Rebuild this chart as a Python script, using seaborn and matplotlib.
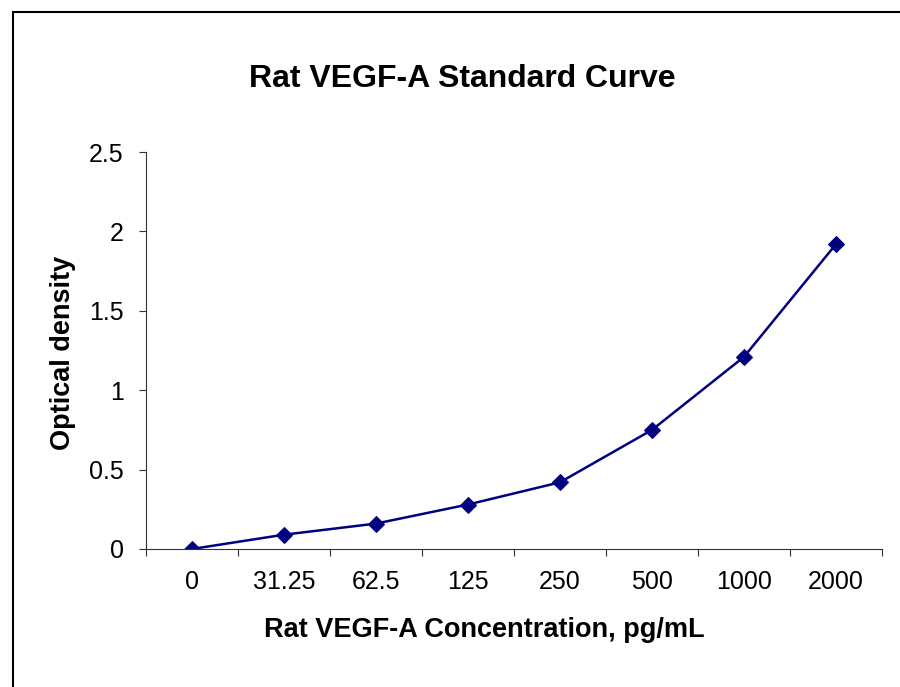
import numpy as np
import pandas as pd
import matplotlib
matplotlib.use("Agg")
import matplotlib.pyplot as plt
import matplotlib.patches as patches
import seaborn as sns

# Standard curve data
concentrations = ['0', '31.25', '62.5', '125', '250', '500', '1000', '2000']
optical_density = [0.0, 0.09, 0.16, 0.28, 0.42, 0.75, 1.21, 1.92]
y_ticks = [0, 0.5, 1, 1.5, 2, 2.5]
y_tick_labels = ['0', '0.5', '1', '1.5', '2', '2.5']

df = pd.DataFrame({'Concentration': concentrations, 'OD': optical_density})

sns.set_theme(style="ticks")
plt.rcParams['font.family'] = ['Liberation Sans', 'DejaVu Sans']
plt.rcParams['text.color'] = 'black'

fig = plt.figure(figsize=(9, 6.87), dpi=100)
ax = fig.add_axes([0.1622, 0.2009, 0.98 - 0.1622, 0.7787 - 0.2009])

sns.lineplot(data=df, x='Concentration', y='OD', sort=False, ax=ax,
             color='#000080', linewidth=1.8, marker='D', markersize=8.5,
             markeredgecolor='#000080', markerfacecolor='#000080')

ax.set_xlim(-0.5, len(concentrations) - 0.5)
ax.set_ylim(0, 2.5)
ax.set_yticks(y_ticks)
ax.set_yticklabels(y_tick_labels)

# ticks between categories, labels under the categories
ax.set_xticks(np.arange(-0.5, len(concentrations), 1))
ax.set_xticklabels([])
ax.set_xticks(np.arange(len(concentrations)), minor=True)
ax.set_xticklabels(concentrations, minor=True)
ax.tick_params(axis='x', which='major', length=5, width=0.8, color='#333333', direction='out')
ax.tick_params(axis='x', which='minor', length=0, pad=15, labelsize=18, labelcolor='black')
ax.tick_params(axis='y', length=5, width=0.8, color='#333333', direction='out', pad=11,
               labelsize=18, labelcolor='black')

for side in ['top', 'right']:
    ax.spines[side].set_visible(False)
for side in ['left', 'bottom']:
    ax.spines[side].set_color('#333333')
    ax.spines[side].set_linewidth(0.8)

ax.set_xlabel('')
ax.set_ylabel('')
fig.text(0.514, 0.8734, 'Rat VEGF-A Standard Curve', ha='center', va='baseline',
         fontsize=23, fontweight='bold')
fig.text(0.538, 0.0728, 'Rat VEGF-A Concentration, pg/mL', ha='center', va='baseline',
         fontsize=19.5, fontweight='bold')
fig.text(0.070, 0.486, 'Optical density', ha='center', va='center', rotation=90,
         fontsize=19.5, fontweight='bold')

# chart area border (runs off the right and bottom edges)
border = patches.Rectangle((0.0144, -0.1), 1.2, 0.9825 + 0.1, transform=fig.transFigure,
                           fill=False, edgecolor='black', linewidth=1.5, clip_on=False)
fig.patches.append(border)

fig.savefig('out.png', dpi=100)
